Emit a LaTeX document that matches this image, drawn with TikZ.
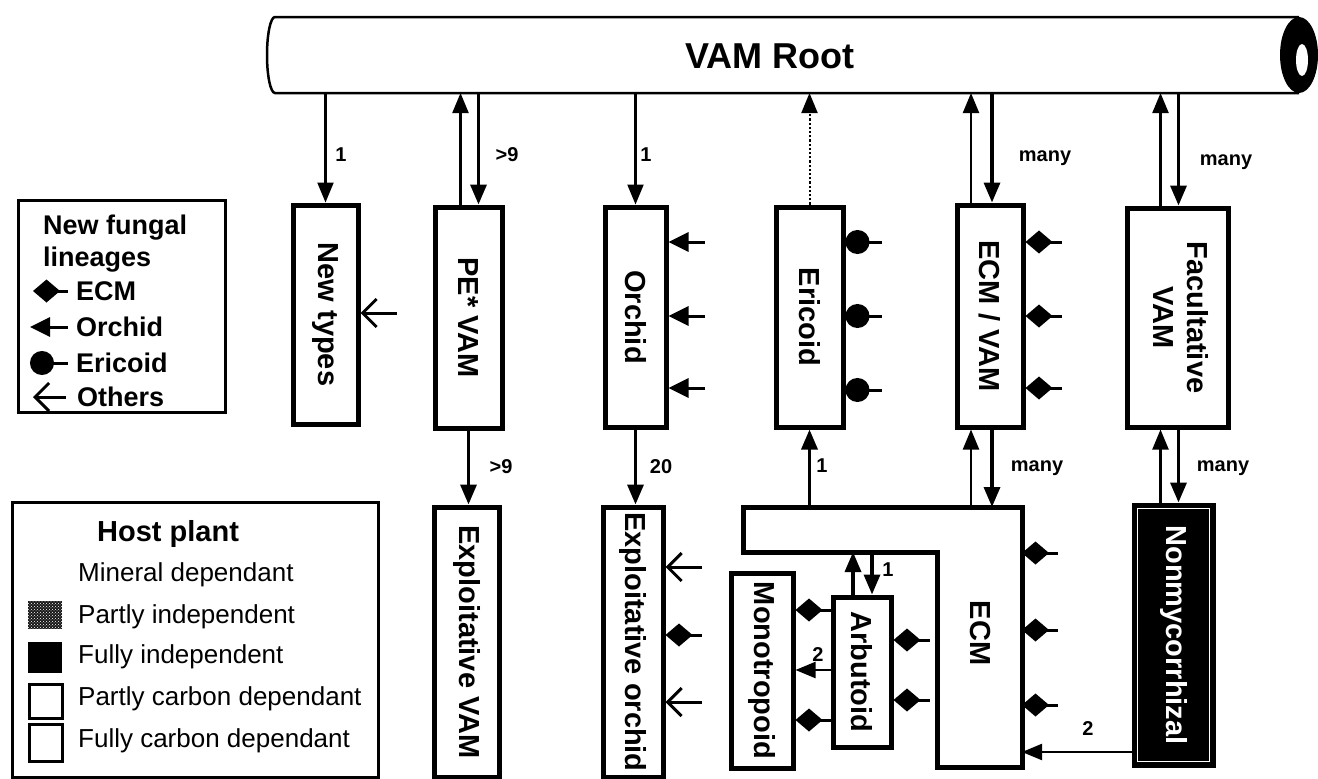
\documentclass[tikz,border=0pt]{standalone}
\usepackage{fontspec}
\setmainfont{Liberation Sans}
\usetikzlibrary{arrows.meta,patterns}
\newcommand{\bxfont}{\fontsize{29}{34}\selectfont\bfseries}
\newcommand{\lblfont}{\fontsize{20}{24}\selectfont\bfseries}
\newcommand{\legfont}{\fontsize{27}{32}\selectfont\bfseries}
\newcommand{\hostfont}{\fontsize{26}{30}\selectfont}
\tikzstyle{box} = [rectangle, draw, line width=5pt, fill=white, inner sep=2pt, font=\bxfont]
\tikzstyle{lbl} = [inner sep=0pt, font=\lblfont]
\tikzset{edge/.style = {
    -{Triangle[length=20pt,width=16pt]},
    line width=2.2pt,
  },
  thickedge/.style = {edge, line width=3.4pt},
  ecmtip/.style = {{Diamond[length=27pt,width=23pt]}-, line width=3pt},
  orchidtip/.style = {{Triangle[length=20pt,width=19pt]}-, line width=3pt},
  eritip/.style = {{Circle[length=24pt]}-, line width=3pt},
  othertip/.style = {{Straight Barb[length=14pt,width=28pt]}-, line width=3pt},
}
\newcommand{\lineage}[2][ecmtip]{%
  \draw[#1] (#2) -- ++(36,0);
}

\begin{document}
\begin{tikzpicture}[x=1pt, y=-1pt]
  \useasboundingbox (0,0) rectangle (1318,779);

  % root cylinder
  \draw[line width=2.5pt, fill=white] (1299,17) -- (275,17)
    arc[start angle=270, end angle=90, x radius=8, y radius=38] -- (1299,93);
  \fill (1299,55) ellipse [x radius=19, y radius=38];
  \fill[white] (1302,60) ellipse [x radius=6, y radius=16];
  \node[font=\fontsize{36}{40}\selectfont\bfseries] (root) at (770,56) {VAM Root};
  \coordinate (rootS) at (770,93);

  % vertices
  \node[box, minimum width=65, minimum height=219] (newtypes) at (325.5,314.5) {\rotatebox{-90}{New types}};
  \node[box, minimum width=67, minimum height=221] (pevam) at (468.5,317.5) {\rotatebox{-90}{PE* VAM}};
  \node[box, minimum width=61, minimum height=220] (orchid) at (635.5,317) {\rotatebox{-90}{Orchid}};
  \node[box, minimum width=67, minimum height=220] (ericoid) at (809.5,317) {\rotatebox{-90}{Ericoid}};
  \node[box, minimum width=66, minimum height=222] (ecmvam) at (990,316) {\rotatebox{-90}{ECM / VAM}};
  \node[box, minimum width=101, minimum height=219] (facult) at (1177.5,317.5)
    {\rotatebox{-90}{\begin{tabular}{@{}c@{}}Facultative\\VAM\end{tabular}}};
  \node[box, minimum width=65, minimum height=270] (explvam) at (466.5,642) {\rotatebox{-90}{Exploitative VAM}};
  \node[box, minimum width=60, minimum height=270] (explorch) at (633,642) {\rotatebox{-90}{Exploitative orchid}};
  \node[box, minimum width=62, minimum height=195] (monotrop) at (762,670.5) {\rotatebox{-90}{Monotropoid}};
  \node[box, minimum width=58, minimum height=150] (arbutoid) at (862,672) {\rotatebox{-90}{Arbutoid}};
  \node[box, fill=black, text=white, minimum width=79, minimum height=260] (nonmyc) at (1173.5,635)
    {\rotatebox{-90}{Nonmycorrhizal}};
  \draw[white, line width=1.2pt] ([shift={(6,6)}]nonmyc.north west) rectangle ([shift={(-6,-6)}]nonmyc.south east);

  % ECM (L shaped)
  \coordinate (ecmTL) at (743,507);
  \coordinate (ecmTR) at (1022,507);
  \coordinate (ecmBR) at (1022,767);
  \coordinate (ecmBL) at (937,767);
  \coordinate (ecmIn) at (937,552);
  \coordinate (ecmBar) at (743,552);
  \draw[line width=5pt, fill=white, line join=miter] (ecmTL) -- (ecmTR) -- (ecmBR) -- (ecmBL)
    -- (ecmIn) -- (ecmBar) -- cycle;
  \node[font=\bxfont] (ecm) at (980,633) {\rotatebox{-90}{ECM}};

  % edges from the root
  \draw[edge] (newtypes.north |- rootS) -- (newtypes.north);
  \draw[edge] ([xshift=-8]pevam.north) -- ([xshift=-8]pevam.north |- rootS);
  \draw[thickedge] ([xshift=10]pevam.north |- rootS) -- ([xshift=10]pevam.north);
  \draw[edge] (orchid.north |- rootS) -- (orchid.north);
  \draw[edge, dotted, line width=2pt] (ericoid.north) -- (ericoid.north |- rootS);
  \draw[edge] ([xshift=-19]ecmvam.north) -- ([xshift=-19]ecmvam.north |- rootS);
  \draw[thickedge] ([xshift=2]ecmvam.north |- rootS) -- ([xshift=2]ecmvam.north);
  \draw[edge] ([xshift=-17]facult.north) -- ([xshift=-17]facult.north |- rootS);
  \draw[thickedge] ([xshift=1]facult.north |- rootS) -- ([xshift=1]facult.north);

  \node[lbl] (l1) at (341,155) {1};
  \node[lbl] (l2) at (507,155) {>9};
  \node[lbl] (l3) at (646,155) {1};
  \node[lbl] (l4) at (1045,158) {many};
  \node[lbl] (l5) at (1226,162) {many};

  % edges below
  \draw[thickedge] (pevam.south) -- (pevam.south |- explvam.north);
  \draw[thickedge] (orchid.south) -- (orchid.south |- explorch.north);
  \draw[thickedge] (ericoid.south |- ecmTL) -- (ericoid.south);
  \draw[edge] ([xshift=-19]ecmvam.south |- ecmTR) -- ([xshift=-19]ecmvam.south);
  \draw[thickedge] ([xshift=2]ecmvam.south) -- ([xshift=2]ecmvam.south |- ecmTR);
  \draw[edge] ([xshift=-17]facult.south |- nonmyc.north) -- ([xshift=-17]facult.south);
  \draw[thickedge] ([xshift=1]facult.south) -- ([xshift=1]facult.south |- nonmyc.north);
  \draw[thickedge] ([xshift=-9]arbutoid.north) -- ([xshift=-9]arbutoid.north |- ecmIn);
  \draw[thickedge] ([xshift=10]arbutoid.north |- ecmIn) -- ([xshift=10]arbutoid.north);
  \draw[edge] (arbutoid.west |- 0,670) -- (monotrop.east |- 0,670);
  \draw[edge] (nonmyc.west |- 0,752) -- (ecmBR |- 0,752);

  \node[lbl] (l6) at (501,467) {>9};
  \node[lbl] (l7) at (661,467) {20};
  \node[lbl] (l8) at (822,466) {1};
  \node[lbl] (l9) at (1037,468) {many};
  \node[lbl] (l10) at (1223,468) {many};
  \node[lbl] (l11) at (888,570) {1};
  \node[lbl] (l12) at (818,655) {2};
  \node[lbl] (l13) at (1088,729) {2};

  % new fungal lineages
  \lineage[othertip]{newtypes.east |- 0,313}
  \foreach \y in {242,316,388} {
    \lineage[orchidtip]{orchid.east |- 0,\y}
    \lineage[ecmtip]{ecmvam.east |- 0,\y}
  }
  \foreach \y in {242,316,390} {
    \lineage[eritip]{ericoid.east |- 0,\y}
  }
  \lineage[othertip]{explorch.east |- 0,567}
  \lineage[ecmtip]{explorch.east |- 0,635}
  \lineage[othertip]{explorch.east |- 0,702}
  \foreach \y in {553,630,705} {
    \lineage[ecmtip]{ecmBR |- 0,\y}
  }
  \lineage[ecmtip]{arbutoid.east |- 0,640}
  \lineage[ecmtip]{arbutoid.east |- 0,700}
  \lineage[ecmtip]{monotrop.east |- 0,610}
  \lineage[ecmtip]{monotrop.east |- 0,720}

  % legend: lineages
  \draw[line width=3pt] (18,200) rectangle (225,412);
  \node[font=\legfont, anchor=west, inner sep=0pt] (lgA) at (43,228) {New fungal};
  \node[font=\legfont, anchor=west, inner sep=0pt] (lgB) at (43,260) {lineages};
  \node[font=\legfont, anchor=west, inner sep=0pt] (lgC) at (76,291) {ECM};
  \node[font=\legfont, anchor=west, inner sep=0pt] (lgD) at (76,327) {Orchid};
  \node[font=\legfont, anchor=west, inner sep=0pt] (lgE) at (76,363) {Ericoid};
  \node[font=\legfont, anchor=west, inner sep=0pt] (lgF) at (77,397) {Others};
  \draw[ecmtip] (33,291) -- (68,291);
  \draw[orchidtip] (30,327) -- (68,327);
  \draw[eritip] (30,363) -- (68,363);
  \draw[othertip] (33,397) -- (66,397);

  % legend: host plant
  \draw[line width=3pt] (12,502) rectangle (378,777);
  \node[font=\fontsize{29}{34}\selectfont\bfseries, anchor=west, inner sep=0pt] (hpA) at (97,534) {Host plant};
  \node[font=\hostfont, anchor=west, inner sep=0pt] (hpB) at (78,575) {Mineral dependant};
  \node[font=\hostfont, anchor=west, inner sep=0pt] (hpC) at (78,617) {Partly independent};
  \node[font=\hostfont, anchor=west, inner sep=0pt] (hpD) at (78,657) {Fully independent};
  \node[font=\hostfont, anchor=west, inner sep=0pt] (hpE) at (78,699) {Partly carbon dependant};
  \node[font=\hostfont, anchor=west, inner sep=0pt] (hpF) at (78,741) {Fully carbon dependant};
  \fill[black!90] (28,601) rectangle (62,629);
  \fill[pattern=crosshatch dots, pattern color=white] (28,601) rectangle (62,629);
  \fill (28,642) rectangle (62,673);
  \draw[line width=3pt] (29,684) rectangle (62,718);
  \draw[line width=3pt] (29,724) rectangle (62,761);
\end{tikzpicture}
\end{document}
